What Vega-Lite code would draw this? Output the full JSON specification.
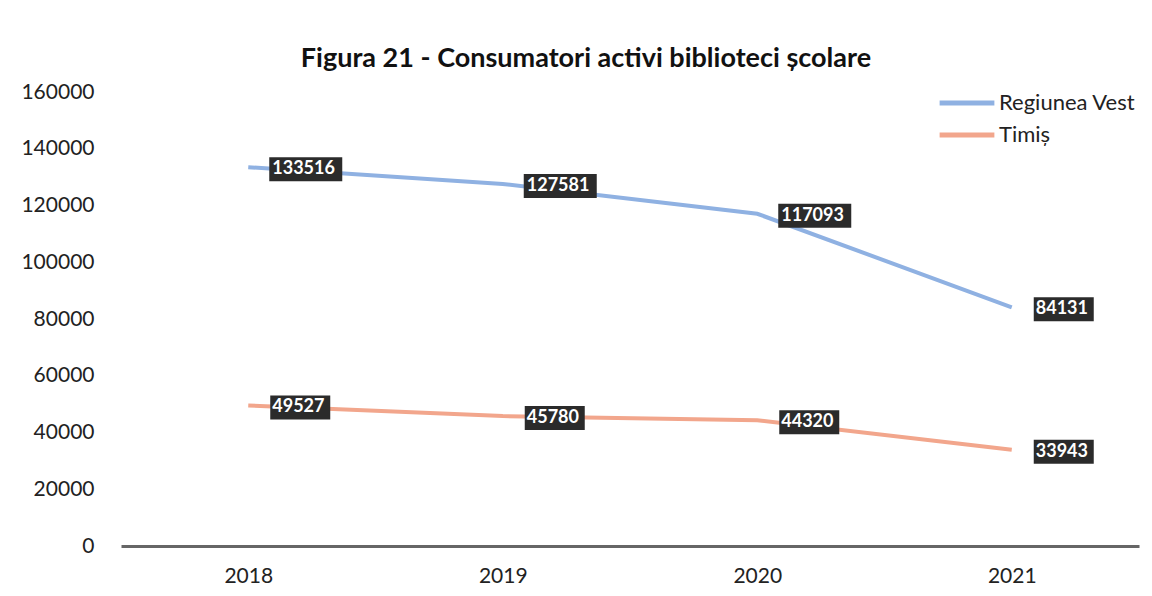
{
  "$schema": "https://vega.github.io/schema/vega-lite/v6.json",
  "width": 1018,
  "height": 454,
  "autosize": {"type": "none"},
  "padding": {"left": 121, "top": 92, "right": 13, "bottom": 50},
  "background": "white",
  "title": {
    "text": "Figura 21 - Consumatori activi biblioteci școlare",
    "font": "Lato",
    "fontSize": 27,
    "fontWeight": "bold",
    "color": "#111111",
    "anchor": "middle",
    "dx": -44,
    "offset": 8
  },
  "config": {
    "view": {"stroke": null},
    "font": "Lato"
  },
  "data": {
    "values": [
      {"year": "2018", "series": "Regiunea Vest", "value": 133516},
      {"year": "2019", "series": "Regiunea Vest", "value": 127581},
      {"year": "2020", "series": "Regiunea Vest", "value": 117093},
      {"year": "2021", "series": "Regiunea Vest", "value": 84131},
      {"year": "2018", "series": "Timiș", "value": 49527},
      {"year": "2019", "series": "Timiș", "value": 45780},
      {"year": "2020", "series": "Timiș", "value": 44320},
      {"year": "2021", "series": "Timiș", "value": 33943}
    ]
  },
  "encoding": {
    "x": {
      "field": "year",
      "type": "ordinal",
      "scale": {"type": "point", "padding": 0.5},
      "axis": {
        "title": null,
        "labelAngle": 0,
        "labelFont": "Lato",
        "labelFontSize": 21,
        "labelColor": "#222222",
        "labelPadding": 19,
        "ticks": false,
        "domainColor": "#666666",
        "domainWidth": 3,
        "grid": false
      }
    },
    "y": {
      "field": "value",
      "type": "quantitative",
      "scale": {"domain": [0, 160000]},
      "axis": {
        "title": null,
        "values": [0, 20000, 40000, 60000, 80000, 100000, 120000, 140000, 160000],
        "format": "d",
        "labelFont": "Lato",
        "labelFontSize": 21,
        "labelColor": "#222222",
        "labelPadding": 27,
        "ticks": false,
        "domain": false,
        "grid": false
      }
    }
  },
  "layer": [
    {
      "mark": {"type": "line", "strokeWidth": 4},
      "encoding": {
        "color": {
          "field": "series",
          "type": "nominal",
          "scale": {"domain": ["Regiunea Vest", "Timiș"], "range": ["#8fb1e2", "#f2a68c"]},
          "legend": {
            "title": null,
            "orient": "none",
            "legendX": 816,
            "legendY": -5,
            "symbolType": "stroke",
            "symbolSize": 3000,
            "symbolStrokeWidth": 5,
            "labelFont": "Lato",
            "labelFontSize": 22,
            "labelColor": "#222222",
            "clipHeight": 32,
            "rowPadding": 0,
            "labelOffset": 2
          }
        }
      }
    },
    {
      "transform": [{"filter": "datum.value >= 100000"}],
      "mark": {"type": "rect", "color": "#2b2b2b", "xOffset": 21, "x2Offset": 94, "yOffset": -10, "y2Offset": 14},
      "encoding": {
        "x2": {"field": "year"},
        "y2": {"field": "value"}
      }
    },
    {
      "transform": [{"filter": "datum.value < 100000"}],
      "mark": {"type": "rect", "color": "#2b2b2b", "xOffset": 22, "x2Offset": 82, "yOffset": -10, "y2Offset": 14},
      "encoding": {
        "x2": {"field": "year"},
        "y2": {"field": "value"}
      }
    },
    {
      "mark": {"type": "text", "align": "left", "baseline": "middle", "dx": 24, "dy": 2, "color": "white", "font": "Lato", "fontSize": 18, "fontWeight": "bold"},
      "encoding": {
        "text": {"field": "value", "type": "quantitative", "format": "d"}
      }
    }
  ]
}
